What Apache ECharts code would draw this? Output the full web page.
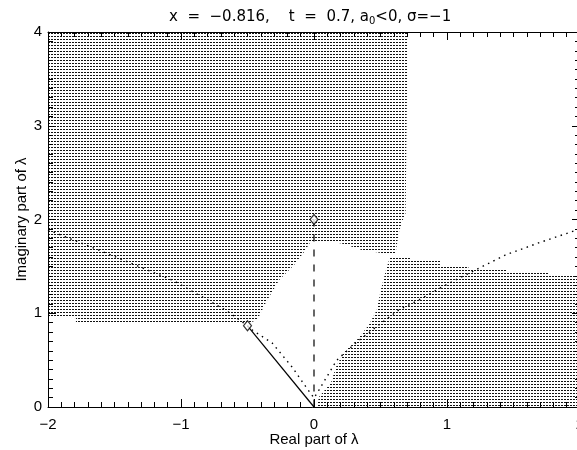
<!DOCTYPE html>
<html>
<head>
<meta charset="utf-8">
<script src="https://cdn.jsdelivr.net/npm/echarts@6/dist/echarts.min.js"></script>
<style>
html,body{margin:0;padding:0;background:#fff;}
#chart{width:577px;height:450px;}
</style>
</head>
<body>
<div id="chart"></div>
<script>
// ---- data (Re λ, Im λ) ----
const xTicks = [-2, -1, 0, 1, 2];
const yTicks = [0, 1, 2, 3, 4];

// stippled region, upper left
const regionA = [[-2,4],[0.704,4],[0.689,2.069],[0.659,1.963],[0.637,1.856],[0.614,1.643],
  [0.509,1.643],[0.36,1.675],[0.225,1.739],[0.112,1.771],[-0.022,1.771],[-0.075,1.653],
  [-0.15,1.515],[-0.262,1.355],[-0.36,1.12],[-0.427,0.928],[-0.487,0.90],[-1.79,0.90],
  [-1.79,0.95],[-2,0.95]];
// stippled region, lower right
const regionB = [[0.577,1.6],[0.727,1.6],[0.727,1.557],[0.951,1.557],[0.951,1.504],
  [1.161,1.504],[1.161,1.483],[1.446,1.483],[1.446,1.451],[1.76,1.451],[1.76,1.397],
  [2,1.397],[2,0],[0.022,0],[0.037,0.107],[0.127,0.256],[0.165,0.427],[0.225,0.587],
  [0.322,0.715],[0.412,0.875],[0.472,1.035],[0.502,1.248],[0.539,1.451],[0.562,1.557]];

// dotted curve
const dottedCurve = [[-2.0,1.89],[-1.56,1.64],[-1.06,1.35],[-0.66,1.03],[-0.5,0.866],
  [-0.464,0.821],[-0.315,0.683],[-0.165,0.427],[-0.06,0.213],[0,0.096],
  [0.037,0.181],[0.172,0.501],[0.322,0.693],[0.487,0.875],[0.637,1.035],[0.787,1.141],
  [0.989,1.301],[1.213,1.461],[1.438,1.621],[1.708,1.76],[1.933,1.867],[2.0,1.899]];
// solid segment
const solidLine = [[-0.5,0.866],[0,0]];
// dashed segment
const dashedLine = [[0,2],[0,0]];
// diamond markers
const diamonds = [[-0.5,0.866],[0,2]];

// ---- stipple pattern ----
const pat = document.createElement('canvas');
pat.width = 3; pat.height = 3;
const pc = pat.getContext('2d');
pc.fillStyle = '#fff'; pc.fillRect(0,0,3,3);
pc.fillStyle = '#111'; pc.fillRect(0,0,2,1);

const FONT = "'Liberation Sans', Helvetica, Arial, sans-serif";
const TFONT = "'DejaVu Sans', sans-serif";
const fmt = v => v < 0 ? '\u2212' + Math.abs(v) : String(v);

function polySeries(pts){
  return {
    type: 'custom', coordinateSystem: 'cartesian2d', silent: true, z: 1,
    data: pts,
    renderItem: function(params, api){
      if (params.dataIndex !== 0) return null;
      const p = pts.map(q => api.coord(q));
      return {type: 'polygon', shape: {points: p},
        style: {fill: {image: pat, repeat: 'repeat'}, stroke: null}};
    }
  };
}

function makeAxis(ticks, position, major, extra){
  const a = {
    type: 'value', position: position, z: 10,
    min: ticks[0], max: ticks[ticks.length-1], interval: major ? 1 : 0.1,
    axisLine: {show: major, onZero: false, lineStyle: {color: '#000', width: 1}},
    axisTick: {show: true, inside: true, length: major ? 8 : 5, lineStyle: {color: '#000', width: 1}},
    splitLine: {show: false},
    axisLabel: {show: false}
  };
  return Object.assign(a, extra || {});
}

const labelStyle = {show: true, color: '#000', fontFamily: FONT, fontSize: 15,
  formatter: fmt, showMinLabel: true, showMaxLabel: true, hideOverlap: false};

const chart = echarts.init(document.getElementById('chart'), null, {renderer: 'canvas'});
chart.setOption({
  backgroundColor: '#fff',
  animation: false,
  title: {
    text: 'x  =  \u22120.816,    t  =  0.7, a{s|0}<0, \u03c3=\u22121',
    left: 164, top: 4,
    textStyle: {fontFamily: TFONT, fontSize: 15, fontWeight: 'normal', color: '#000',
      rich: {s: {fontFamily: TFONT, fontSize: 10, color: '#000', padding: [7,0,0,0]}}}
  },
  grid: {left: 48, top: 32, width: 532, height: 375, containLabel: false, outerBoundsMode: 'none'},
  xAxis: [
    makeAxis(xTicks, 'bottom', true, {
      axisLabel: Object.assign({margin: 10}, labelStyle),
      name: 'Real part of \u03bb', nameLocation: 'middle', nameGap: 25, nameMoveOverlap: false,
      nameTextStyle: {color: '#000', fontFamily: FONT, fontSize: 15}
    }),
    makeAxis(xTicks, 'bottom', false),
    makeAxis(xTicks, 'top', true),
    makeAxis(xTicks, 'top', false)
  ],
  yAxis: [
    makeAxis(yTicks, 'left', true, {
      axisLabel: Object.assign({margin: 6}, labelStyle),
      name: 'Imaginary part of \u03bb', nameLocation: 'middle', nameGap: 19, nameRotate: 90,
      nameMoveOverlap: false,
      nameTextStyle: {color: '#000', fontFamily: FONT, fontSize: 15}
    }),
    makeAxis(yTicks, 'left', false),
    makeAxis(yTicks, 'right', true),
    makeAxis(yTicks, 'right', false)
  ],
  series: [
    polySeries(regionA),
    polySeries(regionB),
    {type: 'line', data: dottedCurve, showSymbol: false, symbol: 'none', z: 3, silent: true,
      lineStyle: {color: '#000', width: 1.4, type: [1.5, 4.5]}},
    {type: 'line', data: solidLine, showSymbol: false, symbol: 'none', z: 3, silent: true,
      lineStyle: {color: '#000', width: 1.2, type: 'solid'}},
    {type: 'line', data: dashedLine, showSymbol: false, symbol: 'none', z: 3, silent: true,
      lineStyle: {color: '#000', width: 1.2, type: [7, 8]}},
    {type: 'scatter', data: diamonds, symbol: 'diamond', symbolSize: [8, 10], z: 4, silent: true,
      itemStyle: {color: '#fff', borderColor: '#000', borderWidth: 1.2}}
  ]
});
</script>
</body>
</html>
